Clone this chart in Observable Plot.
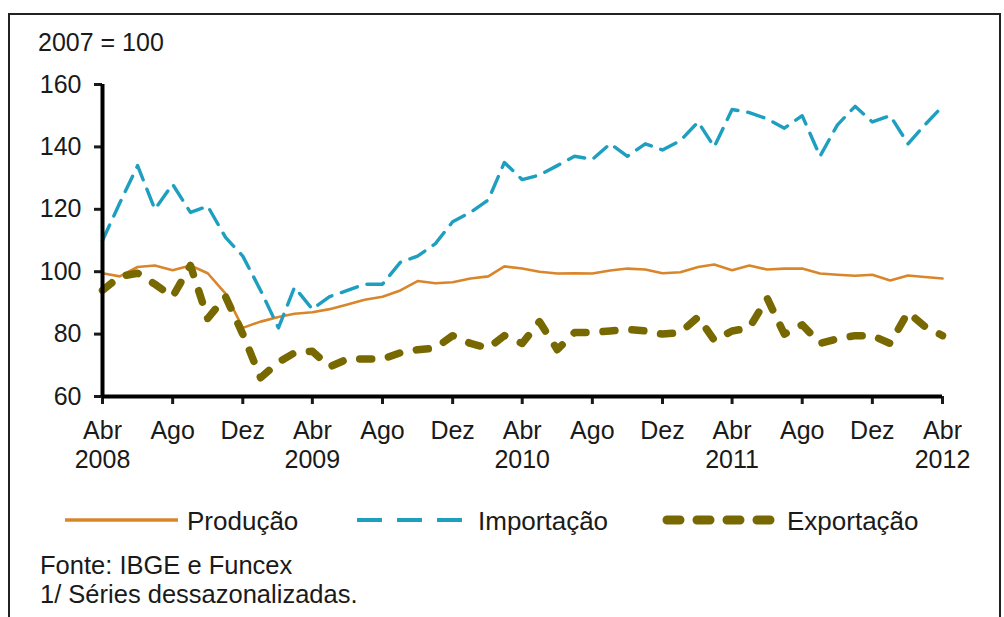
<!DOCTYPE html>
<html>
<head>
<meta charset="utf-8">
<script src="https://cdn.jsdelivr.net/npm/d3@7"></script>
<script src="https://cdn.jsdelivr.net/npm/@observablehq/plot@0.6"></script>
<style>
  html, body { margin: 0; padding: 0; background: #fff; }
  body { width: 1004px; height: 617px; position: relative; overflow: hidden;
         font-family: "Liberation Sans", Arial, sans-serif; color: #1a1a1a; }
  #frame { position: absolute; left: 8px; top: 13px; width: 989px; height: 640px;
           border: 2px solid #222; border-bottom: none; }
  #chart { position: absolute; left: 0; top: 0; }
  .txt { position: absolute; white-space: nowrap; line-height: 25px; }
  #legend { position: absolute; left: 0; top: 490px; }
</style>
</head>
<body>
<div id="frame"></div>
<div class="txt" style="left:38px; top:30px; font-size:25px;">2007 = 100</div>
<div id="chart"></div>
<svg id="legend" width="1004" height="60"></svg>
<div class="txt" style="left:40px; top:553px; font-size:25.5px;">Fonte: IBGE e Funcex</div>
<div class="txt" style="left:40px; top:582px; font-size:25.5px;">1/ Séries dessazonalizadas.</div>
<script>
// Monthly series, Apr 2008 – Apr 2012 (index 2007 = 100)
const startMonth = "2008-04-01";
const endMonth = "2012-04-01";
const producao = [99.5, 98.5, 101.5, 102, 100.5, 102, 99.5, 93, 82, 84,
                  85.5, 86.5, 87, 88, 89.5, 91, 92, 94, 97, 96.3,
                  96.6, 97.8, 98.5, 101.7, 101, 100, 99.4, 99.5, 99.4, 100.4,
                  101, 100.7, 99.5, 99.8, 101.5, 102.3, 100.5, 102, 100.7, 101,
                  101, 99.4, 99, 98.7, 99, 97.2, 98.8, 98.3, 97.8];
const importacao = [110, 122, 134, 120, 128, 119, 121, 111, 105, 94,
                    82, 95, 88, 92, 94, 96, 96, 103, 105, 109,
                    116, 119, 123, 135, 129.5, 131, 134, 137, 136, 141,
                    137, 141, 139, 142, 148, 140, 152, 151, 149, 146,
                    150, 137, 147, 153, 148, 150, 141, 147, 153];
const exportacao = [94, 98.5, 99.5, 96, 92, 102, 85, 92, 80, 66,
                    71, 74, 74.5, 69.5, 72, 72, 72, 74, 75, 75.5,
                    79.5, 77, 75.5, 79.5, 77, 84, 75, 80.5, 80.5, 81,
                    81.5, 81, 80, 80.5, 85.5, 78, 81, 82, 91.5, 80,
                    83, 77, 78.5, 79.5, 79.5, 77, 87, 82.5, 79.5];
const yTicks = [60, 80, 100, 120, 140, 160];
const xTickLabels = ["Abr\n2008", "Ago", "Dez", "Abr\n2009", "Ago", "Dez", "Abr\n2010",
                     "Ago", "Dez", "Abr\n2011", "Ago", "Dez", "Abr\n2012"];
const seriesNames = ["Produção", "Importação", "Exportação"];
const seriesColors = ["#D9862B", "#1E9FC0", "#776800"];

const months = d3.utcMonth.range(new Date(startMonth), d3.utcMonth.offset(new Date(endMonth), 1));
const xTicks = months.filter((d, i) => i % 4 === 0);
const rows = (vals) => vals.map((v, i) => ({date: months[i], value: v}));

const chart = Plot.plot({
  width: 1004,
  height: 480,
  marginTop: 84,
  marginBottom: 84,
  marginLeft: 102,
  marginRight: 62,
  style: {fontFamily: "'Liberation Sans', Arial, sans-serif", fontSize: "25px", color: "#1a1a1a", background: "transparent"},
  x: {type: "utc", domain: [months[0], months[months.length - 1]]},
  y: {domain: [60, 160]},
  marks: [
    Plot.line(rows(producao), {x: "date", y: "value", stroke: seriesColors[0], strokeWidth: 2.6}),
    Plot.line(rows(importacao), {x: "date", y: "value", stroke: seriesColors[1], strokeWidth: 3.4,
      strokeDasharray: "17,10", strokeLinecap: "round"}),
    Plot.line(rows(exportacao), {x: "date", y: "value", stroke: seriesColors[2], strokeWidth: 7.5,
      strokeDasharray: "12,17", strokeLinecap: "round"}),
    Plot.axisY({ticks: yTicks, tickSize: 8, tickPadding: 13, strokeWidth: 3, label: null, fontSize: 25}),
    Plot.axisX({ticks: xTicks, tickSize: 8, tickPadding: 14, strokeWidth: 3, label: null, fontSize: 25,
      lineHeight: 1.16, tickFormat: (d, i) => xTickLabels[i]}),
    Plot.ruleY([60], {stroke: "#000", strokeWidth: 4}),
    Plot.ruleX([months[0]], {stroke: "#000", strokeWidth: 4})
  ]
});
document.getElementById("chart").appendChild(chart);

// Legend
const lg = d3.select("#legend");
const ly = 30;
const legendItems = [
  {x0: 65, x1: 178, tx: 187, dash: null, w: 3.4, cap: "butt"},
  {x0: 357, x1: 466, tx: 478, dash: "25,15", w: 4, cap: "butt"},
  {x0: 667, x1: 780, tx: 787, dash: "13,17", w: 9, cap: "round"}
];
legendItems.forEach((it, i) => {
  const ln = lg.append("line").attr("x1", it.x0).attr("x2", it.x1)
    .attr("y1", ly).attr("y2", ly)
    .attr("stroke", seriesColors[i]).attr("stroke-width", it.w).attr("stroke-linecap", it.cap);
  if (it.dash) ln.attr("stroke-dasharray", it.dash);
  lg.append("text").attr("x", it.tx).attr("y", ly + 9.5).attr("font-size", 26)
    .attr("font-family", "'Liberation Sans', Arial, sans-serif").attr("fill", "#1a1a1a")
    .text(seriesNames[i]);
});
</script>
</body>
</html>
